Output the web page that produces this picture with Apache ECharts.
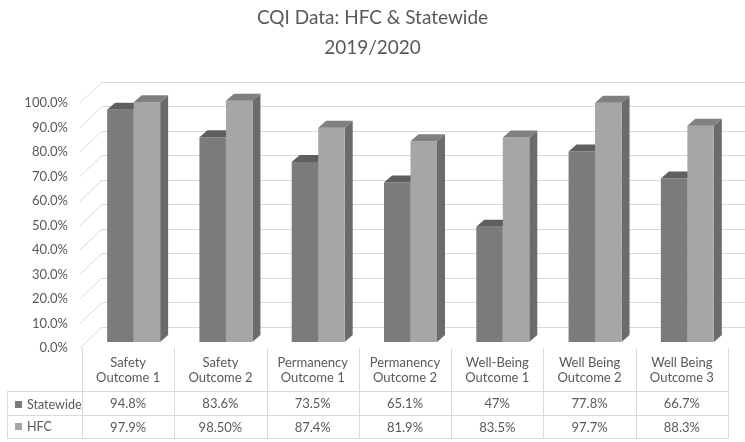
<!DOCTYPE html>
<html>
<head>
<meta charset="utf-8">
<script src="https://cdn.jsdelivr.net/npm/echarts@6/dist/echarts.min.js"></script>
<style>
  html, body { margin: 0; padding: 0; background: #fff; }
  #main { width: 745px; height: 442px; }
</style>
</head>
<body>
<div id="main"></div>
<script>
// data
var categories = ['Safety\nOutcome 1', 'Safety\nOutcome 2', 'Permanency\nOutcome 1', 'Permanency\nOutcome 2',
  'Well-Being\nOutcome 1', 'Well Being\nOutcome 2', 'Well Being\nOutcome 3'];
var statewide = [94.8, 83.6, 73.5, 65.1, 47, 77.8, 66.7];
var hfc = [97.9, 98.5, 87.4, 81.9, 83.5, 97.7, 88.3];
var statewideLabels = ['94.8%', '83.6%', '73.5%', '65.1%', '47%', '77.8%', '66.7%'];
var hfcLabels = ['97.9%', '98.50%', '87.4%', '81.9%', '83.5%', '97.7%', '88.3%'];
var yTicks = [0, 10, 20, 30, 40, 50, 60, 70, 80, 90, 100];

var FONT = 'Lato, "Open Sans", sans-serif';
var TXT = '#595959';
var LINE = '#d9d9d9';

// layout of the front plane / table
var frontLeft = 82, frontRight = 728, frontTop = 103, frontBottom = 348;
var tableLeft = 7;
var tableRows = [391, 415, 438];

var chart = echarts.init(document.getElementById('main'));

// 3d-ish bar: front face + top + side
function bar3d(colors, slot) {
  return function (params, api) {
    var cat = api.value(0), v = api.value(1);
    var base = api.coord([cat, 0]);
    var top = api.coord([cat, v]);
    var bw = 26.5, dx = 5.5, dy = -6, depX = 8, depY = -7;
    var x0 = base[0] + dx + (slot - 1) * bw;
    var x1 = x0 + bw;
    var yb = base[1] + dy, yt = top[1] + dy;
    return {
      type: 'group',
      children: [
        { type: 'polygon', shape: { points: [[x1, yt], [x1 + depX, yt + depY], [x1 + depX, yb + depY], [x1, yb]] },
          style: { fill: colors.side } },
        { type: 'rect', shape: { x: x0, y: yt, width: bw, height: yb - yt }, style: { fill: colors.front } },
        { type: 'polygon', shape: { points: [[x0, yt], [x1, yt], [x1 + depX, yt + depY], [x0 + depX, yt + depY]] },
          style: { fill: colors.top } }
      ]
    };
  };
}

var graphics = [];
// table borders
for (var i = 0; i <= categories.length; i++) {
  var x = Math.round(frontLeft + i * (frontRight - frontLeft) / categories.length) + 0.5;
  graphics.push({ type: 'line', shape: { x1: x, y1: frontBottom, x2: x, y2: tableRows[2] },
    style: { stroke: LINE, lineWidth: 1 } });
}
tableRows.forEach(function (y) {
  graphics.push({ type: 'line', shape: { x1: tableLeft, y1: y + 0.5, x2: frontRight + 0.5, y2: y + 0.5 },
    style: { stroke: LINE, lineWidth: 1 } });
});
graphics.push({ type: 'line', shape: { x1: tableLeft + 0.5, y1: tableRows[0], x2: tableLeft + 0.5, y2: tableRows[2] },
  style: { stroke: LINE, lineWidth: 1 } });

var option = {
  animation: false,
  backgroundColor: '#fff',
  title: {
    text: 'CQI Data: HFC & Statewide\n2019/2020',
    left: 'center',
    top: -2,
    textStyle: { fontFamily: FONT, fontSize: 19, fontWeight: 'normal', color: TXT, lineHeight: 30 }
  },
  legend: {
    data: ['Statewide', 'HFC'],
    orient: 'vertical',
    left: 10,
    top: 393,
    icon: 'rect',
    itemWidth: 7,
    itemHeight: 7,
    itemGap: 9,
    textStyle: { fontFamily: FONT, fontSize: 12.5, color: TXT }
  },
  grid: [
    // back wall
    { left: 102, right: -2, top: 82, height: 245 },
    // front plane
    { left: frontLeft, right: 745 - frontRight, top: frontTop, height: frontBottom - frontTop }
  ],
  xAxis: [
    { gridIndex: 0, type: 'category', data: categories, show: false },
    { gridIndex: 1, type: 'category', data: categories,
      axisLine: { show: false }, axisTick: { show: false },
      axisLabel: { interval: 0, margin: 7, fontFamily: FONT, fontSize: 13, color: TXT, lineHeight: 15 } },
    { gridIndex: 1, type: 'category', data: statewideLabels, position: 'bottom', offset: 41,
      axisLine: { show: false }, axisTick: { show: false },
      axisLabel: { interval: 0, margin: 7, fontFamily: FONT, fontSize: 13, color: TXT, lineHeight: 15 } },
    { gridIndex: 1, type: 'category', data: hfcLabels, position: 'bottom', offset: 65,
      axisLine: { show: false }, axisTick: { show: false },
      axisLabel: { interval: 0, margin: 7, fontFamily: FONT, fontSize: 13, color: TXT, lineHeight: 15 } }
  ],
  yAxis: [
    { gridIndex: 0, type: 'value', min: 0, max: 100, interval: 10,
      axisLabel: { show: false }, axisLine: { show: false }, axisTick: { show: false },
      splitLine: { lineStyle: { color: LINE, width: 1 } } },
    { gridIndex: 1, type: 'value', min: 0, max: 100, interval: 10,
      axisLine: { show: false }, axisTick: { show: false }, splitLine: { show: false },
      axisLabel: { margin: 14, fontFamily: FONT, fontSize: 13, color: TXT,
        formatter: function (v) { return v.toFixed(1) + '%'; } } }
  ],
  series: [
    {
      // left wall edges
      name: 'wall',
      type: 'custom',
      xAxisIndex: 1, yAxisIndex: 1,
      silent: true,
      data: yTicks.map(function (t) { return [0, t]; }),
      renderItem: function (params, api) {
        var p = api.coord([0, api.value(1)]);
        var cs = params.coordSys;
        return { type: 'line', shape: { x1: cs.x - 2, y1: p[1], x2: cs.x + 20, y2: p[1] - 21 },
          style: { stroke: LINE, lineWidth: 1 } };
      }
    },
    {
      name: 'Statewide',
      type: 'custom',
      xAxisIndex: 1, yAxisIndex: 1,
      itemStyle: { color: '#7b7b7b' },
      data: statewide.map(function (v, i) { return [i, v]; }),
      renderItem: bar3d({ front: '#7b7b7b', top: '#5f5f5f', side: '#5a5a5a' }, 0)
    },
    {
      name: 'HFC',
      type: 'custom',
      xAxisIndex: 1, yAxisIndex: 1,
      itemStyle: { color: '#a6a6a6' },
      data: hfc.map(function (v, i) { return [i, v]; }),
      renderItem: bar3d({ front: '#a6a6a6', top: '#808080', side: '#6b6b6b' }, 1)
    }
  ],
  graphic: graphics
};

chart.setOption(option);
</script>
</body>
</html>
